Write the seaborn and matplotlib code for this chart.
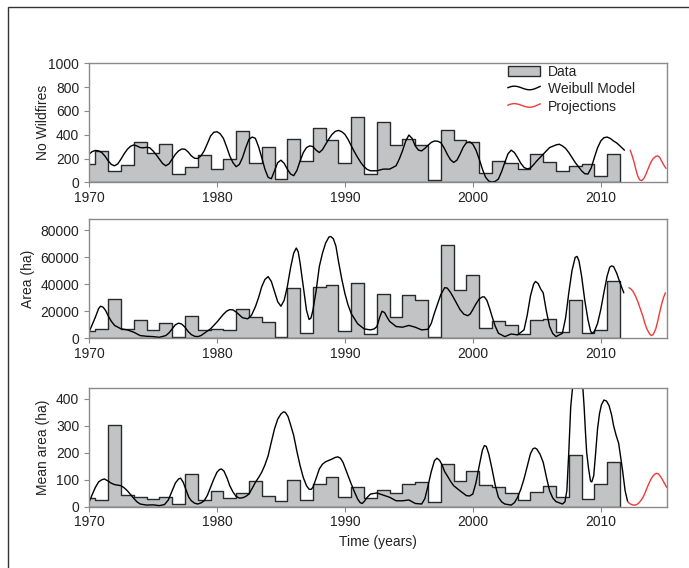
"""Wildfire series (number, burnt area, mean area) with Weibull model fit
and short-term projections, three stacked panels."""

import matplotlib

matplotlib.use("Agg")
import matplotlib.pyplot as plt
import numpy as np
import pandas as pd
import seaborn as sns
from matplotlib.legend_handler import HandlerLine2D
from matplotlib.lines import Line2D
from matplotlib.patches import Patch, Rectangle

# ---- observed yearly data -------------------------------------------------
YEARS = list(range(1970, 2012))

FIRES = [153, 264, 97, 147, 342, 245, 320, 70, 131, 228,
         111, 195, 431, 161, 297, 28, 361, 180, 453, 353,
         161, 547, 70, 506, 311, 361, 311, 20, 439, 353,
         342, 78, 180, 161, 111, 236, 167, 97, 133, 153,
         56, 236]

AREA = [5200, 7000, 29400, 7000, 13200, 6500, 11200, 750, 16700, 6500,
        7000, 6200, 21700, 15700, 12200, 750, 36900, 3700, 37600, 39300,
        5700, 41100, 2900, 32900, 15700, 32100, 28600, 1250, 69000, 35600,
        47100, 7500, 13000, 10000, 3200, 13700, 14400, 4500, 28100, 3700,
        6200, 42300]

MEAN_AREA = [31, 25, 305, 43, 35, 28, 35, 10, 120, 25,
             58, 31, 51, 94, 38, 22, 100, 25, 83, 110,
             37, 73, 33, 63, 51, 84, 90, 19, 159, 97,
             134, 82, 72, 51, 26, 53, 76, 35, 193, 28,
             83, 167]

# ---- Weibull model, (year, value) -----------------------------------------
FIRES_FIT = [
    (1970.0, 236), (1970.25, 258), (1970.5, 268), (1970.75, 264), (1971.0, 250),
    (1971.25, 220), (1971.5, 180), (1971.75, 150), (1972.0, 139), (1972.25, 155),
    (1972.5, 195), (1972.75, 240), (1973.0, 278), (1973.25, 303), (1973.5, 314),
    (1973.75, 305), (1974.0, 292), (1974.25, 290), (1974.5, 294), (1974.75, 290),
    (1975.0, 264), (1975.25, 232), (1975.5, 195), (1975.75, 158), (1976.0, 139),
    (1976.25, 155), (1976.5, 195), (1976.75, 235), (1977.0, 264), (1977.25, 280),
    (1977.5, 278), (1977.75, 255), (1978.0, 222), (1978.25, 202), (1978.5, 200),
    (1978.75, 222), (1979.0, 264), (1979.25, 325), (1979.5, 389), (1979.75, 420),
    (1980.0, 425), (1980.25, 408), (1980.5, 370), (1980.75, 300), (1981.0, 222),
    (1981.25, 165), (1981.5, 131), (1981.75, 150), (1982.0, 208), (1982.25, 290),
    (1982.5, 361), (1982.75, 380), (1983.0, 370), (1983.25, 300), (1983.5, 208),
    (1983.75, 110), (1984.0, 42), (1984.25, 30), (1984.5, 97), (1984.75, 165),
    (1985.0, 186), (1985.25, 160), (1985.5, 111), (1985.75, 70), (1986.0, 56),
    (1986.25, 100), (1986.5, 180), (1986.75, 250), (1987.0, 292), (1987.25, 306),
    (1987.5, 300), (1987.75, 270), (1988.0, 250), (1988.25, 275), (1988.5, 320),
    (1988.75, 365), (1989.0, 403), (1989.25, 428), (1989.5, 436), (1989.75, 425),
    (1990.0, 403), (1990.25, 360), (1990.5, 306), (1990.75, 255), (1991.0, 208),
    (1991.25, 165), (1991.5, 131), (1991.75, 108), (1992.0, 97), (1992.5, 97),
    (1993.0, 111), (1993.5, 111), (1994.0, 139), (1994.25, 195), (1994.5, 264),
    (1994.75, 345), (1995.0, 397), (1995.25, 370), (1995.5, 306), (1995.75, 270),
    (1996.0, 264), (1996.25, 285), (1996.5, 311), (1996.75, 335), (1997.0, 347),
    (1997.25, 345), (1997.5, 333), (1997.75, 290), (1998.0, 236), (1998.25, 190),
    (1998.5, 167), (1998.75, 185), (1999.0, 236), (1999.25, 295), (1999.5, 333),
    (1999.75, 340), (2000.0, 320), (2000.25, 270), (2000.5, 195), (2000.75, 110),
    (2001.0, 42), (2001.25, 10), (2001.5, 3), (2001.75, 8), (2002.0, 28),
    (2002.25, 90), (2002.5, 167), (2002.75, 240), (2003.0, 270), (2003.25, 250),
    (2003.5, 208), (2003.75, 160), (2004.0, 125), (2004.25, 113), (2004.5, 120),
    (2004.75, 148), (2005.0, 180), (2005.5, 236), (2006.0, 292), (2006.5, 314),
    (2006.75, 320), (2007.0, 306), (2007.25, 285), (2007.5, 250), (2008.0, 167),
    (2008.5, 97), (2008.75, 72), (2009.0, 70), (2009.25, 120), (2009.5, 208),
    (2009.75, 290), (2010.0, 347), (2010.25, 375), (2010.5, 380), (2010.75, 368),
    (2011.0, 347), (2011.25, 330), (2011.5, 306), (2011.85, 270),
]

AREA_FIT = [
    (1970.0, 4500), (1970.25, 10000), (1970.5, 15700), (1970.75, 22000), (1970.9, 23700),
    (1971.1, 23000), (1971.3, 20500), (1971.5, 16500), (1971.75, 12500), (1972.0, 9500),
    (1972.5, 7000), (1973.0, 6200), (1973.5, 4500), (1974.0, 2000), (1974.5, 1500),
    (1975.0, 1250), (1975.5, 750), (1976.0, 2000), (1976.25, 4000), (1976.5, 7000),
    (1976.75, 10000), (1977.0, 11200), (1977.25, 10500), (1977.5, 8200), (1977.75, 5000),
    (1978.0, 2700), (1978.25, 1500), (1978.5, 1250), (1978.75, 2000), (1979.0, 3700),
    (1979.5, 7000), (1980.0, 12000), (1980.5, 17700), (1980.75, 20000), (1981.0, 21200),
    (1981.25, 21000), (1981.5, 19400), (1982.0, 15200), (1982.4, 14400), (1982.7, 17000),
    (1983.0, 23200), (1983.25, 30000), (1983.5, 38100), (1983.75, 43500), (1984.0, 45600),
    (1984.25, 42000), (1984.5, 34400), (1984.75, 27000), (1985.0, 23700), (1985.25, 28000),
    (1985.5, 38100), (1985.75, 52000), (1986.0, 63000), (1986.2, 66700), (1986.35, 64000),
    (1986.5, 55500), (1986.75, 38000), (1987.0, 20700), (1987.2, 13900), (1987.35, 15000),
    (1987.5, 20700), (1987.75, 35000), (1988.0, 53000), (1988.25, 63000), (1988.5, 70500),
    (1988.75, 74800), (1988.9, 75200), (1989.1, 73500), (1989.3, 68000), (1989.5, 56800),
    (1989.75, 44000), (1990.0, 33100), (1990.25, 24500), (1990.5, 18200), (1991.0, 10700),
    (1991.5, 7000), (1992.0, 6200), (1992.3, 7000), (1992.5, 8700), (1992.7, 15000),
    (1992.9, 20000), (1993.1, 19000), (1993.3, 15500), (1993.5, 12500), (1994.0, 8700),
    (1994.5, 8200), (1995.0, 9500), (1995.5, 8200), (1996.0, 6200), (1996.5, 6700),
    (1996.75, 11000), (1997.0, 18700), (1997.25, 25500), (1997.5, 32400), (1997.8, 37400),
    (1998.0, 37100), (1998.25, 34000), (1998.5, 29900), (1999.0, 21200), (1999.3, 17800),
    (1999.6, 16700), (1999.8, 18000), (2000.0, 21200), (2000.25, 25500), (2000.5, 29100),
    (2000.75, 30600), (2000.9, 30600), (2001.1, 28000), (2001.3, 22500), (2001.5, 16200),
    (2001.75, 9000), (2002.0, 3700), (2002.5, 1250), (2003.0, 3200), (2003.5, 2500),
    (2004.0, 6200), (2004.25, 17000), (2004.5, 31100), (2004.75, 40000), (2004.9, 42000),
    (2005.1, 40500), (2005.3, 36500), (2005.5, 33600), (2005.75, 20000), (2006.0, 8700),
    (2006.25, 3500), (2006.5, 1250), (2007.0, 3700), (2007.25, 15000), (2007.5, 33600),
    (2007.75, 50000), (2008.0, 59800), (2008.15, 60500), (2008.3, 57000), (2008.5, 46100),
    (2008.75, 28000), (2009.0, 13700), (2009.2, 5500), (2009.3, 3700), (2009.5, 5000),
    (2009.75, 11000), (2010.0, 21200), (2010.25, 34000), (2010.5, 46100), (2010.7, 52500),
    (2010.85, 53500), (2011.0, 53000), (2011.25, 48000), (2011.5, 41100), (2011.8, 33600),
]

MEAN_FIT = [
    (1970.0, 16), (1970.25, 45), (1970.5, 72), (1970.75, 92), (1971.0, 100),
    (1971.2, 103), (1971.5, 95), (1971.75, 87), (1972.0, 82), (1972.25, 80),
    (1972.5, 78), (1972.75, 70), (1973.0, 59), (1973.25, 45), (1973.5, 31),
    (1973.75, 18), (1974.0, 10), (1974.5, 6), (1975.0, 7), (1975.5, 4),
    (1975.9, 8), (1976.2, 25), (1976.5, 59), (1976.75, 88), (1977.0, 103),
    (1977.15, 106), (1977.35, 92), (1977.6, 60), (1977.8, 35), (1978.0, 22),
    (1978.25, 13), (1978.5, 10), (1978.75, 14), (1979.0, 22), (1979.25, 42),
    (1979.5, 72), (1979.75, 102), (1980.0, 128), (1980.2, 138), (1980.35, 140),
    (1980.55, 132), (1980.8, 105), (1981.0, 78), (1981.25, 55), (1981.5, 38),
    (1981.75, 32), (1982.0, 33), (1982.25, 38), (1982.5, 47), (1982.75, 68),
    (1983.0, 90), (1983.25, 108), (1983.5, 128), (1983.75, 155), (1984.0, 189),
    (1984.25, 240), (1984.5, 289), (1984.75, 325), (1985.0, 344), (1985.2, 352),
    (1985.35, 350), (1985.55, 335), (1985.75, 305), (1986.0, 264), (1986.25, 205),
    (1986.5, 152), (1986.75, 108), (1987.0, 78), (1987.2, 65), (1987.35, 64),
    (1987.5, 72), (1987.75, 105), (1988.0, 140), (1988.25, 158), (1988.5, 167),
    (1988.75, 172), (1989.0, 177), (1989.25, 183), (1989.45, 185), (1989.65, 180),
    (1989.85, 165), (1990.0, 146), (1990.25, 115), (1990.5, 84), (1990.75, 55),
    (1991.0, 28), (1991.2, 15), (1991.35, 12), (1991.5, 19), (1991.75, 35),
    (1992.0, 47), (1992.5, 51), (1993.0, 43), (1993.5, 35), (1994.0, 22),
    (1994.5, 22), (1995.0, 25), (1995.5, 12), (1996.0, 10), (1996.25, 30),
    (1996.5, 78), (1996.75, 130), (1997.0, 171), (1997.2, 180), (1997.4, 172),
    (1997.6, 155), (1997.8, 130), (1998.0, 115), (1998.25, 95), (1998.5, 78),
    (1999.0, 59), (1999.5, 41), (1999.75, 40), (2000.0, 47), (2000.25, 90),
    (2000.5, 152), (2000.75, 210), (2000.9, 227), (2001.05, 224), (2001.25, 195),
    (2001.5, 140), (2001.75, 80), (2002.0, 35), (2002.25, 18), (2002.5, 10),
    (2003.0, 6), (2003.25, 15), (2003.5, 35), (2003.75, 65), (2004.0, 103),
    (2004.25, 150), (2004.5, 196), (2004.7, 215), (2004.85, 218), (2005.0, 214),
    (2005.25, 195), (2005.5, 165), (2005.75, 110), (2006.0, 59), (2006.25, 32),
    (2006.5, 19), (2007.0, 10), (2007.2, 18), (2007.35, 60), (2007.5, 202),
    (2007.65, 370), (2007.8, 445), (2007.95, 470), (2008.2, 485), (2008.45, 470),
    (2008.6, 440), (2008.7, 370), (2008.8, 280), (2008.9, 200), (2009.05, 140),
    (2009.2, 95), (2009.3, 92), (2009.45, 115), (2009.6, 200), (2009.75, 290),
    (2009.9, 345), (2010.05, 378), (2010.25, 396), (2010.45, 392), (2010.65, 375),
    (2010.85, 340), (2011.0, 301), (2011.2, 265), (2011.4, 235), (2011.7, 136),
    (2011.9, 60), (2012.1, 19),
]

# ---- projections ----------------------------------------------------------
FIRES_PROJ = [
    (2012.3, 270), (2012.45, 225), (2012.6, 170), (2012.75, 105), (2012.9, 50),
    (2013.05, 20), (2013.2, 14), (2013.35, 30), (2013.5, 60), (2013.65, 100),
    (2013.8, 140), (2013.95, 175), (2014.1, 200), (2014.3, 218), (2014.45, 222),
    (2014.6, 210), (2014.8, 170), (2014.95, 140), (2015.1, 117),
]
AREA_PROJ = [
    (2012.2, 37400), (2012.35, 36500), (2012.5, 34900), (2012.7, 31500), (2012.9, 27000),
    (2013.1, 21500), (2013.3, 16000), (2013.45, 11000), (2013.6, 7000), (2013.8, 3500),
    (2013.95, 2000), (2014.1, 2800), (2014.3, 7000), (2014.45, 12500), (2014.6, 19000),
    (2014.75, 25000), (2014.9, 30000), (2015.05, 33600),
]
MEAN_PROJ = [
    (2012.1, 19), (2012.25, 12), (2012.4, 8), (2012.55, 6), (2012.7, 6),
    (2012.85, 9), (2013.0, 15), (2013.15, 24), (2013.3, 35), (2013.45, 50),
    (2013.6, 68), (2013.75, 85), (2013.9, 100), (2014.05, 112), (2014.2, 120),
    (2014.35, 124), (2014.5, 122), (2014.7, 110), (2014.85, 98), (2015.0, 85),
    (2015.15, 72),
]

XTICKS = [1970, 1980, 1990, 2000, 2010]

BAR_GREY = "#c2c3c5"
EDGE = "#2a2a2a"
SPINE = "#8a8a8a"
TEXT = "#222222"
RED = "#ee3a3a"
FS = 10


class WavyHandler(HandlerLine2D):
    """Legend glyph drawn as a small wave instead of a straight segment."""

    def create_artists(self, legend, orig_handle, xdescent, ydescent,
                       width, height, fontsize, trans):
        t = np.linspace(0.0, 1.0, 40)
        xs = -xdescent + width * t
        ys = (-ydescent + height / 2
              + 0.22 * height * np.sin(2 * np.pi * t + 0.4) + 0.15 * height * t)
        line = Line2D(xs, ys)
        self.update_prop(line, orig_handle, legend)
        line.set_transform(trans)
        return [line]


def draw_panel(ax, data, fit, proj, ylim, yticks, ylabel, label_x):
    edges = [y - 0.5 for y in YEARS] + [YEARS[-1] + 0.5]
    obs = pd.DataFrame({"year": YEARS, "value": data})
    fit_df = pd.DataFrame(fit, columns=["year", "value"])
    proj_df = pd.DataFrame(proj, columns=["year", "value"])

    sns.histplot(data=obs, x="year", weights="value", bins=edges,
                 element="step", fill=True, color=BAR_GREY, alpha=1.0,
                 edgecolor=EDGE, linewidth=1.0, ax=ax)
    sns.lineplot(data=fit_df, x="year", y="value", color="black",
                 linewidth=1.0, ax=ax, sort=False)
    sns.lineplot(data=proj_df, x="year", y="value", color=RED,
                 linewidth=1.0, ax=ax, sort=False)

    ax.set_xlim(1970, 2015.2)
    ax.set_ylim(*ylim)
    ax.set_xticks(XTICKS)
    ax.set_yticks(yticks)
    ax.set_xlabel("")
    ax.set_ylabel(ylabel, fontsize=FS, color=TEXT)
    ax.yaxis.set_label_coords(label_x, 0.5)
    ax.tick_params(axis="both", direction="out", length=3.5, width=0.8,
                   color=SPINE, labelsize=FS, labelcolor=TEXT,
                   left=True, bottom=True, top=False, right=False)
    ax.tick_params(axis="x", pad=2.5)
    ax.tick_params(axis="y", pad=3.5)
    for sp in ax.spines.values():
        sp.set_visible(True)
        sp.set_color(SPINE)
        sp.set_linewidth(1.0)


def main() -> None:
    sns.set_theme(style="white")
    plt.rcParams["font.family"] = ["Liberation Sans", "DejaVu Sans"]

    fig = plt.figure(figsize=(6.89, 5.68), dpi=100)
    left, width, height = 0.1292, 0.8393, 0.2097
    ax1 = fig.add_axes([left, 0.6790, width, height])
    ax2 = fig.add_axes([left, 0.4044, width, height])
    ax3 = fig.add_axes([left, 0.1079, width, height])

    draw_panel(ax1, FIRES, FIRES_FIT, FIRES_PROJ, (0, 1000),
               [0, 200, 400, 600, 800, 1000], "No Wildfires", -0.067)
    draw_panel(ax2, AREA, AREA_FIT, AREA_PROJ, (0, 88000),
               [0, 20000, 40000, 60000, 80000], "Area (ha)", -0.093)
    draw_panel(ax3, MEAN_AREA, MEAN_FIT, MEAN_PROJ, (0, 442),
               [0, 100, 200, 300, 400], "Mean area (ha)", -0.067)

    ax3.set_xlabel("Time (years)", fontsize=FS, color=TEXT)
    ax3.xaxis.set_label_coords(0.5, -0.235)

    handles = [
        Patch(facecolor=BAR_GREY, edgecolor=EDGE, linewidth=1.0),
        Line2D([], [], color="black", linewidth=1.0),
        Line2D([], [], color=RED, linewidth=1.0),
    ]
    ax1.legend(handles, ["Data", "Weibull Model", "Projections"],
               loc="upper left", bbox_to_anchor=(0.724, 0.985), frameon=False,
               fontsize=FS, handlelength=2.35, handleheight=0.7,
               handletextpad=0.55, labelspacing=0.25, borderpad=0.0,
               borderaxespad=0.0, labelcolor=TEXT,
               handler_map={Line2D: WavyHandler()})

    # thin frame around the whole figure (clipped on the right/bottom)
    fig.patches.append(Rectangle((7.5 / 689, -0.1), 1.2, 1.1 - 7.5 / 568,
                                 transform=fig.transFigure, fill=False,
                                 edgecolor="#333333", linewidth=1.0))

    fig.savefig("out.png", dpi=100)
    plt.close(fig)


if __name__ == "__main__":
    main()
